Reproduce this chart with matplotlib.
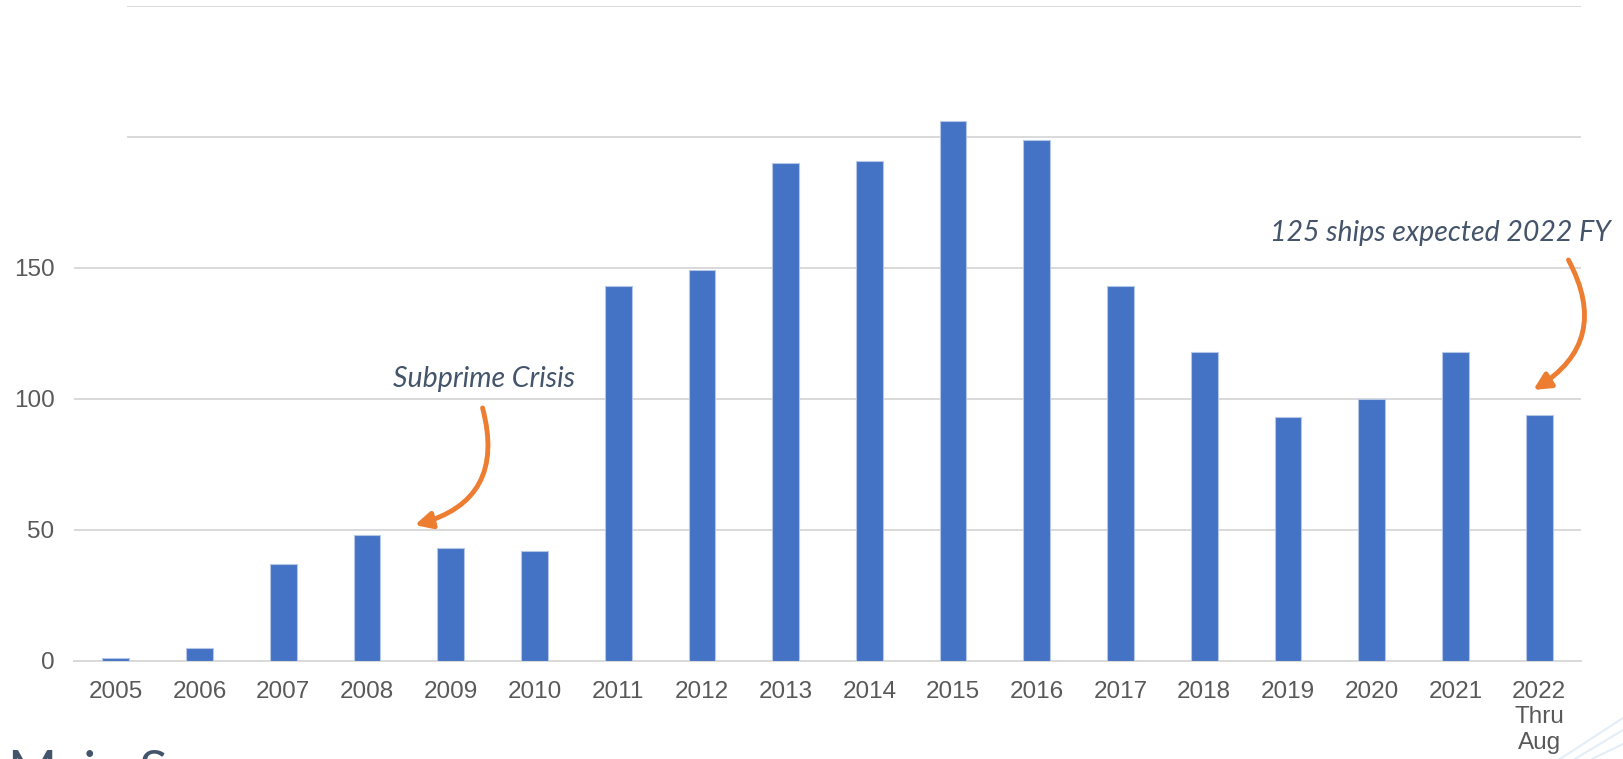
import matplotlib
matplotlib.use('Agg')
from matplotlib import pyplot as plt
from matplotlib.patches import Rectangle
from matplotlib.lines import Line2D

years = ['2005', '2006', '2007', '2008', '2009', '2010', '2011', '2012', '2013',
         '2014', '2015', '2016', '2017', '2018', '2019', '2020', '2021', '2022\nThru\nAug']
ships = [1, 5, 37, 48, 43, 42, 143, 149, 190, 191, 206, 199, 143, 118, 93, 100, 118, 94]
y_ticks = [0, 50, 100, 150, 200, 250]
y_labels = ['0', '50', '100', '150', '', '']

BAR = '#4472C4'
GRID = '#D9D9D9'
TICK = '#595959'
NOTE = '#44546A'
ARROW = '#ED7D31'

W, H = 1623, 759
fig = plt.figure(figsize=(W / 100, H / 100), dpi=100)
ax = fig.add_axes([74 / W, (H - 660.7) / H, (1581 - 74) / W, (660.7 - 6) / H])

x = list(range(len(years)))
ax.bar(x, ships, width=0.32, color=BAR, edgecolor='#B4C7E7', linewidth=0.8, zorder=3)

ax.set_xlim(-0.5, len(years) - 0.5)
ax.set_ylim(0, 250)
ax.set_yticks(y_ticks)
ax.set_yticklabels(y_labels)
ax.set_xticks(x)
ax.set_xticklabels(years, linespacing=1.2)
ax.grid(axis='y', color=GRID, linewidth=1.4, zorder=0)
for s in ['top', 'right', 'left']:
    ax.spines[s].set_visible(False)
ax.spines['bottom'].set_color(GRID)
ax.spines['bottom'].set_linewidth(1.4)
ax.tick_params(axis='both', length=0, labelcolor=TICK, labelsize=17.5)
ax.tick_params(axis='y', pad=14)
ax.tick_params(axis='x', pad=14.5)
for lab in ax.get_xticklabels() + ax.get_yticklabels():
    lab.set_family(['Liberation Sans', 'DejaVu Sans'])

# notes
note_font = dict(family=['Lato', 'DejaVu Sans'], style='italic', color=NOTE, fontsize=20.5,
                 ha='center', va='center')
ax.text(4.40, 107.5, 'Subprime Crisis', **note_font)
ax.annotate('', xy=(3.57, 51.8), xytext=(4.38, 96.5),
            arrowprops=dict(arrowstyle='-|>', connectionstyle='arc3,rad=-0.5',
                            color=ARROW, lw=3.5, mutation_scale=25, shrinkA=0, shrinkB=0))
ax.text(15.82, 163.3, '125 ships expected 2022 FY', **note_font)
ax.annotate('', xy=(16.93, 103.4), xytext=(17.35, 153),
            arrowprops=dict(arrowstyle='-|>', connectionstyle='arc3,rad=-0.47',
                            color=ARROW, lw=3.5, mutation_scale=25, shrinkA=0, shrinkB=0))

# cropped top-left corner of the slide
fig.patches.append(Rectangle((0, (H - 200) / H), 127 / W, 200 / H, transform=fig.transFigure,
                             facecolor='white', edgecolor='none', zorder=10))

# slide title cut off at the bottom
fig.text(8 / W, (H - 750) / H, 'Main S', family=['Lato', 'DejaVu Sans'], fontsize=38,
         color=NOTE, ha='left', va='top')

# faint background swooshes
for x0, y1 in [(1560, 718), (1575, 730), (1592, 744)]:
    fig.lines.append(Line2D([x0 / W, 1], [0, (H - y1) / H], transform=fig.transFigure,
                            color='#E3EEF8', linewidth=1.5))

fig.savefig('out.png', dpi=100)
